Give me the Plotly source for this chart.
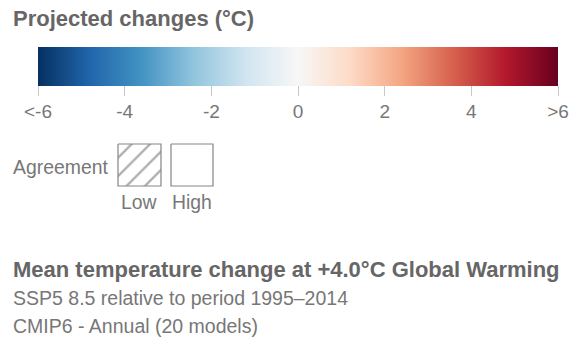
import plotly.graph_objects as go

W, H = 572, 345

# Colour scale: values of the legend and the matching RdBu-style stops
tick_values = [-6, -4, -2, 0, 2, 4, 6]
tick_labels = ["<-6", "-4", "-2", "0", "2", "4", ">6"]
scale_colors = ["#053061", "#2166ac", "#4393c3", "#92c5de", "#d1e5f0", "#f7f7f7",
                "#fddbc7", "#f4a582", "#d6604d", "#b2182b", "#67001f"]
agreement_labels = ["Low", "High"]

title_text = "Projected changes (°C)"
caption_title = "Mean temperature change at +4.0°C Global Warming"
caption_lines = ["SSP5 8.5 relative to period 1995–2014", "CMIP6 - Annual (20 models)"]

FONT = "Liberation Sans, Arial, sans-serif"
DARK = "#666666"
LIGHT = "#777777"

n = len(scale_colors)
colorscale = [[i / (n - 1), c] for i, c in enumerate(scale_colors)]

fig = go.Figure()

# invisible carrier trace that owns the horizontal colour bar
fig.add_trace(go.Scatter(
    x=[-1000, -1000], y=[-1000, -1000], mode="markers",
    marker=dict(
        color=[tick_values[0], tick_values[-1]], cmin=tick_values[0], cmax=tick_values[-1],
        colorscale=colorscale, showscale=True, size=1,
        colorbar=dict(
            orientation="h", lenmode="pixels", len=520, thickness=39,
            x=298 / W, xanchor="center", y=1 - 47 / H, yanchor="top",
            xpad=0, ypad=0, outlinewidth=0,
            tickmode="array", tickvals=tick_values, ticktext=tick_labels,
            ticks="outside", ticklen=10, tickwidth=1, tickcolor="#c8c8c8",
            tickfont=dict(family=FONT, size=19, color=LIGHT),
        ),
    ),
    hoverinfo="skip", showlegend=False,
))

# agreement legend boxes: hatched (low) and plain (high)
boxes = [(118, 161), (171, 213)]
for i, (x0, x1) in enumerate(boxes):
    fig.add_trace(go.Scatter(
        x=[x0, x1, x1, x0, x0], y=[144, 144, 186, 186, 144],
        mode="lines", fill="toself",
        line=dict(color="#858585", width=1.2),
        fillcolor="white",
        fillpattern=dict(shape="/", size=13, solidity=0.18, fgcolor="#5e5e5e",
                         bgcolor="white") if i == 0 else None,
        hoverinfo="skip", showlegend=False,
    ))

annotations = [
    dict(x=11, y=18, text=f"<b>{title_text}</b>", xanchor="left", yanchor="middle",
         font=dict(family=FONT, size=22, color=DARK)),
    dict(x=11, y=167, text="Agreement", xanchor="left", yanchor="middle",
         font=dict(family=FONT, size=19.4, color=LIGHT)),
    dict(x=(boxes[0][0] + boxes[0][1]) / 2, y=202, text=agreement_labels[0],
         xanchor="center", yanchor="middle", font=dict(family=FONT, size=19.4, color=LIGHT)),
    dict(x=(boxes[1][0] + boxes[1][1]) / 2, y=202, text=agreement_labels[1],
         xanchor="center", yanchor="middle", font=dict(family=FONT, size=19.4, color=LIGHT)),
    dict(x=11, y=269, text=f"<b>{caption_title}</b>", xanchor="left", yanchor="middle",
         font=dict(family=FONT, size=22, color=DARK)),
    dict(x=11, y=298, text=caption_lines[0], xanchor="left", yanchor="middle",
         font=dict(family=FONT, size=19.5, color=LIGHT)),
    dict(x=11, y=326, text=caption_lines[1], xanchor="left", yanchor="middle",
         font=dict(family=FONT, size=19.5, color=LIGHT)),
]
for a in annotations:
    a.update(xref="x", yref="y", showarrow=False)

fig.update_layout(
    width=W, height=H, margin=dict(l=0, r=0, t=0, b=0),
    paper_bgcolor="white", plot_bgcolor="white",
    xaxis=dict(range=[0, W], visible=False, fixedrange=True),
    yaxis=dict(range=[H, 0], visible=False, fixedrange=True),
    annotations=annotations, showlegend=False,
)

fig.write_html("out.html", config={"displayModeBar": False})
